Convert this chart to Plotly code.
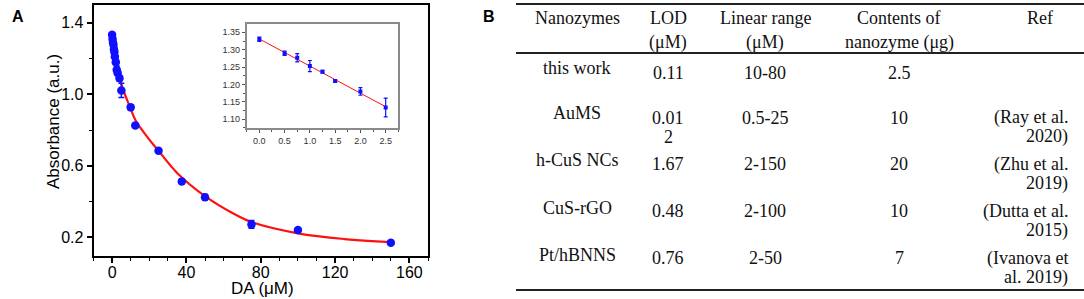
import plotly.graph_objects as go

W, H = 1084, 299

# ---------------- Panel A data ----------------
da_conc = [0, 0.25, 0.5, 0.75, 1, 1.25, 1.5, 2, 2.5, 3, 4, 5, 10, 12.5, 25, 37.5, 50, 75, 100, 150]
absorb = [1.333, 1.31, 1.29, 1.277, 1.253, 1.237, 1.21, 1.18, 1.138, 1.12, 1.09, 1.022, 0.927, 0.826,
          0.684, 0.512, 0.424, 0.272, 0.24, 0.169]
absorb_err = [0.01, 0.01, 0.008, 0.012, 0.015, 0.008, 0.008, 0.012, 0.02, 0.015, 0.015, 0.04, 0.012, 0.012,
              0.008, 0.012, 0.015, 0.022, 0.012, 0.008]

fit_x = [0, 1, 2.7, 6.3, 9.5, 12.6, 19.4, 25, 35, 50, 65, 75, 100, 125, 150]
fit_y = [1.335, 1.262, 1.138, 1.016, 0.932, 0.855, 0.755, 0.684, 0.56, 0.43, 0.334, 0.285, 0.222, 0.19, 0.173]

# inset (linear range)
ins_x = [0, 0.5, 0.75, 1.0, 1.25, 1.5, 2.0, 2.5]
ins_y = [1.330, 1.290, 1.277, 1.253, 1.237, 1.210, 1.180, 1.134]
ins_err = [0.006, 0.006, 0.012, 0.016, 0.004, 0.004, 0.011, 0.027]
ins_fit_x = [0, 2.5]
ins_fit_y = [1.331, 1.136]

# ---------------- Panel B data ----------------
headers = ["Nanozymes", "LOD<br>(\u03bcM)", "Linear range<br>(\u03bcM)", "Contents of<br>nanozyme (\u03bcg)", "Ref"]
nanozymes = ["this work", "AuMS", "h-CuS NCs", "CuS-rGO", "Pt/hBNNS"]
lod = ["0.11", "0.01<br>2", "1.67", "0.48", "0.76"]
linear_range = ["10-80", "0.5-25", "2-150", "2-100", "2-50"]
contents = ["2.5", "10", "20", "10", "7"]
refs = ["", "(Ray et al.<br>2020)", "(Zhu et al.<br>2019)", "(Dutta et al.<br>2015)", "(Ivanova et<br>al. 2019)"]


def px(x):
    return x / W


def py(y):
    return 1 - y / H


fig = go.Figure()

BLUE = "#1010ff"
RED = "#ff1010"

fig.add_trace(go.Scatter(x=fit_x, y=fit_y, mode="lines", line=dict(color=RED, width=2.2, shape="spline"),
                         xaxis="x", yaxis="y", showlegend=False, hoverinfo="skip"))
fig.add_trace(go.Scatter(x=da_conc, y=absorb, mode="markers",
                         marker=dict(color=BLUE, size=8.5, symbol="circle"),
                         error_y=dict(type="data", array=absorb_err, color=BLUE, thickness=1.5, width=3),
                         xaxis="x", yaxis="y", showlegend=False))

fig.add_trace(go.Scatter(x=ins_fit_x, y=ins_fit_y, mode="lines", line=dict(color=RED, width=1),
                         xaxis="x2", yaxis="y2", showlegend=False, hoverinfo="skip"))
fig.add_trace(go.Scatter(x=ins_x, y=ins_y, mode="markers",
                         marker=dict(color=BLUE, size=4, symbol="square"),
                         error_y=dict(type="data", array=ins_err, color=BLUE, thickness=1.2, width=2),
                         xaxis="x2", yaxis="y2", showlegend=False))

SANS = "Arial, Liberation Sans, sans-serif"
main_font = dict(family=SANS, size=16, color="black")
ins_font = dict(family=SANS, size=9, color="#333333")

fig.update_layout(
    width=W, height=H,
    margin=dict(l=0, r=0, t=0, b=0),
    paper_bgcolor="white", plot_bgcolor="white",
    xaxis=dict(domain=[px(93.5), px(428)], range=[-10, 170], tickvals=[0, 40, 80, 120, 160],
               ticks="outside", ticklen=5, tickwidth=1.5, tickcolor="black", ticklabelstandoff=-4,
               minor=dict(ticks="outside", ticklen=3, dtick=10, tick0=0, tickcolor="black", tickwidth=1.2),
               showline=True, linecolor="black", linewidth=1.8, mirror=True,
               showgrid=False, zeroline=False, tickfont=main_font),
    yaxis=dict(domain=[py(256), py(5)], range=[0.095, 1.5], tickvals=[0.2, 0.6, 1.0, 1.4],
               ticktext=["0.2", "0.6", "1.0", "1.4"],
               ticks="outside", ticklen=5, tickwidth=1.5, tickcolor="black",
               minor=dict(ticks="outside", ticklen=3, dtick=0.2, tick0=0.2, tickcolor="black", tickwidth=1.2),
               showline=True, linecolor="black", linewidth=1.8, mirror=True,
               showgrid=False, zeroline=False, tickfont=main_font),
    xaxis2=dict(domain=[px(246.7), px(398.3)], range=[-0.25, 2.75], anchor="y2",
                tickvals=[0, 0.5, 1.0, 1.5, 2.0, 2.5], ticktext=["0.0", "0.5", "1.0", "1.5", "2.0", "2.5"],
                ticks="outside", ticklen=3, tickcolor="#555", tickwidth=1,
                minor=dict(ticks="outside", ticklen=2, dtick=0.25, tick0=0, tickcolor="#555"),
                showline=True, linecolor="#8a8a8a", linewidth=1.5, mirror=True,
                showgrid=False, zeroline=False, tickfont=ins_font),
    yaxis2=dict(domain=[py(128.3), py(24)], range=[1.074, 1.374], anchor="x2",
                tickvals=[1.10, 1.15, 1.20, 1.25, 1.30, 1.35],
                ticktext=["1.10", "1.15", "1.20", "1.25", "1.30", "1.35"],
                ticks="outside", ticklen=3, tickcolor="#555", tickwidth=1,
                minor=dict(ticks="outside", ticklen=2, dtick=0.025, tick0=1.1, tickcolor="#555"),
                showline=True, linecolor="#8a8a8a", linewidth=1.5, mirror=True,
                showgrid=False, zeroline=False, tickfont=ins_font),
)

annotations = []


def add_sans(txt, x, y, size, angle=0):
    annotations.append(dict(text=txt, x=px(x), y=py(y), xref="paper", yref="paper", showarrow=False,
                            font=dict(family=SANS, size=size, color="black"), textangle=angle,
                            xanchor="center", yanchor="middle"))


# panel labels and axis titles
add_sans("<b>A</b>", 18, 17, 16)
add_sans("<b>B</b>", 489, 17, 16)
add_sans("DA (\u03bcM)", 262, 288, 17)
add_sans("Absorbance (a.u.)", 54, 122, 17, angle=-90)

serif = dict(family="Times New Roman, Liberation Serif, serif", size=18, color="#111111")
LINE_H = 19

col_x = [577, 668, 765, 899, 1040]
header_y = 18


def add_text(txt, x, y, anchor="center"):
    annotations.append(dict(text=txt, x=px(x), y=py(y), xref="paper", yref="paper", showarrow=False,
                            font=serif, xanchor=anchor, yanchor="middle"))


def add_cell(txt, x, y, anchor="center", lh=LINE_H):
    for i, part in enumerate(txt.split("<br>")):
        add_text(part, x, y + i * lh, anchor)


for j, h in enumerate(headers):
    add_cell(h, col_x[j], header_y, lh=24)

row_y_name = [68, 113, 160, 208, 255]
row_y_val = [73, 118, 164, 211, 258]
for i in range(len(nanozymes)):
    add_cell(nanozymes[i], col_x[0], row_y_name[i])
    add_cell(lod[i], col_x[1], row_y_val[i])
    add_cell(linear_range[i], col_x[2], row_y_val[i])
    add_cell(contents[i], col_x[3], row_y_val[i])
    if refs[i]:
        add_cell(refs[i], 1070, row_y_val[i], anchor="right")

fig.update_layout(annotations=annotations)

shapes = []
for yy, lw in [(4, 1.8), (53, 1.8), (290, 1.8)]:
    shapes.append(dict(type="line", xref="paper", yref="paper", x0=px(516), x1=1.0, y0=py(yy), y1=py(yy),
                       line=dict(color="#222222", width=lw)))
fig.update_layout(shapes=shapes)

fig.write_html("out.html", config={"displayModeBar": False},
               post_script="document.body.style.margin='0';document.body.style.overflow='hidden';")
